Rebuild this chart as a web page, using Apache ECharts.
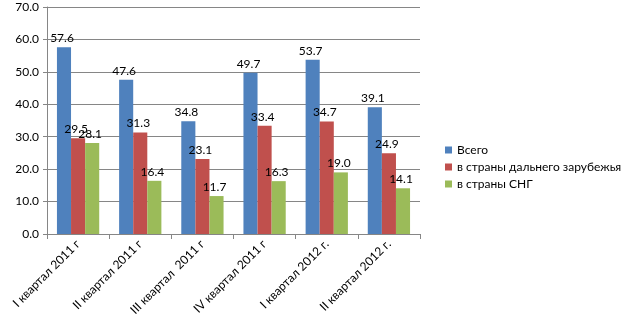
<!DOCTYPE html>
<html><head><meta charset="utf-8">
<script src="https://cdn.jsdelivr.net/npm/echarts@6/dist/echarts.min.js"></script>
<style>html,body{margin:0;padding:0;background:#fff}#c{width:623px;height:332px}</style>
</head><body><div id="c"></div>
<script>
const categories = ['I квартал 2011 г', 'II квартал 2011 г', 'III квартал  2011 г', 'IV квартал 2011 г', 'I квартал 2012 г.', 'II квартал 2012 г.'];
const seriesNames = ['Всего', 'в страны дальнего зарубежья', 'в страны СНГ'];
const total = [57.6, 47.6, 34.8, 49.7, 53.7, 39.1];
const farAbroad = [29.5, 31.3, 23.1, 33.4, 34.7, 24.9];
const cis = [28.1, 16.4, 11.7, 16.3, 19.0, 14.1];
const colors = ['#4F81BD', '#C0504D', '#9BBB59'];
const font = 'Lato, "DejaVu Sans", sans-serif';
const chart = echarts.init(document.getElementById('c'));
const mk = (name, data, color) => ({
  name, type: 'bar', data, barGap: '0%', barCategoryGap: '32%',
  itemStyle: { color },
  label: { show: true, position: 'top', distance: 3, offset: [-2, 0], formatter: p => p.value.toFixed(1), color: '#000', fontFamily: font, fontSize: 12 }
});
chart.setOption({
  animation: false,
  textStyle: { fontFamily: font },
  grid: { left: 47, right: 203, top: 7, bottom: 98, containLabel: false },
  legend: {
    orient: 'vertical', left: 440, top: 139, itemWidth: 7, itemHeight: 7, itemGap: 5,
    textStyle: { fontFamily: font, fontSize: 12, color: '#000' },
    data: seriesNames.map((n, i) => ({ name: n, icon: 'rect', itemStyle: { color: colors[i] } }))
  },
  xAxis: {
    type: 'category', data: categories,
    axisLine: { lineStyle: { color: '#868686' } },
    axisTick: { show: true, length: 5, lineStyle: { color: '#868686' } },
    axisLabel: { rotate: 45, color: '#000', fontFamily: font, fontSize: 12, margin: 8 }
  },
  yAxis: {
    type: 'value', min: 0, max: 70, interval: 10,
    axisLine: { show: true, lineStyle: { color: '#868686' } },
    axisTick: { show: true, length: 4, lineStyle: { color: '#868686' } },
    splitLine: { lineStyle: { color: '#868686' } },
    axisLabel: { formatter: v => v.toFixed(1), color: '#000', fontFamily: font, fontSize: 12, margin: 8 }
  },
  series: [mk(seriesNames[0], total, colors[0]), mk(seriesNames[1], farAbroad, colors[1]), mk(seriesNames[2], cis, colors[2])]
});
</script></body></html>
